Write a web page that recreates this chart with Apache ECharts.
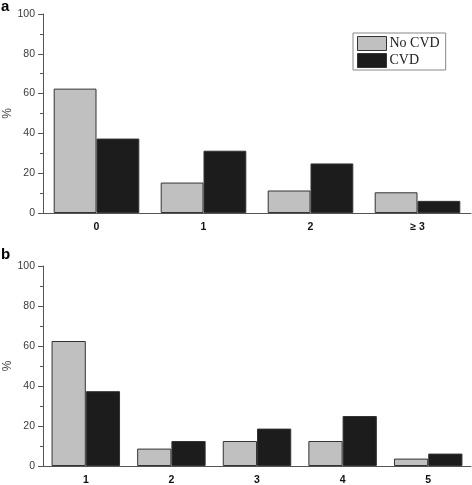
<!DOCTYPE html>
<html>
<head>
<meta charset="utf-8">
<script src="https://cdn.jsdelivr.net/npm/echarts@6/dist/echarts.min.js"></script>
<style>html,body{margin:0;padding:0;background:#fff}#c{width:472px;height:485px}</style>
</head>
<body>
<div id="c"></div>
<script>
var seriesNames = ['No CVD', 'CVD'];
var catsA = ['0', '1', '2', '\u2265 3'];
var noCvdA = [62.5, 15.3, 11.3, 10.4];
var cvdA = [37.4, 31.3, 24.9, 6.1];
var catsB = ['1', '2', '3', '4', '5'];
var noCvdB = [62.5, 8.7, 12.5, 12.5, 3.7];
var cvdB = [37.4, 12.5, 18.7, 25.0, 6.2];
var yTicks = [0, 20, 40, 60, 80, 100];

var gray = '#c0c0c0', black = '#1c1c1c', border = '#333';
function xAx(cats, gi) {
  return {
    type: 'category', data: cats, gridIndex: gi,
    axisLine: {lineStyle: {color: '#555', width: 1}},
    axisTick: {alignWithLabel: true, length: 5, lineStyle: {color: '#555'}},
    axisLabel: {color: '#111', fontWeight: 'bold', fontSize: 10.5, fontFamily: 'Liberation Sans, Arial', margin: 9}
  };
}
function yAx(gi) {
  return {
    type: 'value', gridIndex: gi, min: yTicks[0], max: yTicks[yTicks.length - 1], interval: 20,
    name: '%', nameLocation: 'middle', nameGap: 29, nameRotate: 90, nameMoveOverlap: false,
    nameTextStyle: {color: '#444', fontSize: 12, fontFamily: 'Liberation Sans, Arial'},
    axisLine: {show: true, lineStyle: {color: '#555', width: 1}},
    axisTick: {show: true, length: 5, lineStyle: {color: '#555'}},
    minorTick: {show: true, splitNumber: 2, length: 3, lineStyle: {color: '#555'}},
    splitLine: {show: false},
    axisLabel: {color: '#3a3a3a', fontSize: 10.5, fontFamily: 'Liberation Sans, Arial', margin: 8}
  };
}
function bar(name, data, color, gi) {
  return {
    type: 'bar', name: name, data: data, xAxisIndex: gi, yAxisIndex: gi,
    barGap: '0%', barCategoryGap: '20%',
    itemStyle: {color: color, borderColor: border, borderWidth: 1},
    animation: false
  };
}
var chart = echarts.init(document.getElementById('c'), null, {renderer: 'canvas'});
chart.setOption({
  animation: false,
  title: [
    {text: 'a', left: 1, top: -1, padding: 0, textStyle: {fontSize: 15, fontWeight: 'bold', color: '#000', fontFamily: 'Liberation Sans, Arial'}},
    {text: 'b', left: 1, top: 247, padding: 0, textStyle: {fontSize: 15, fontWeight: 'bold', color: '#000', fontFamily: 'Liberation Sans, Arial'}}
  ],
  legend: {
    data: seriesNames, orient: 'vertical', left: 353, top: 33,
    itemWidth: 29, itemHeight: 14, itemGap: 2, padding: [3, 6, 2, 4],
    borderColor: '#888', borderWidth: 1,
    icon: 'rect',
    textStyle: {fontFamily: 'Liberation Serif, Times New Roman', fontSize: 14, color: '#222', lineHeight: 14, padding: [0, 0, 0, -2]},
    itemStyle: {borderColor: border, borderWidth: 1}
  },
  grid: [
    {left: 43, width: 428, top: 14, height: 199, containLabel: false, outerBoundsMode: 'none'},
    {left: 43, width: 428, top: 266, height: 200, containLabel: false, outerBoundsMode: 'none'}
  ],
  xAxis: [xAx(catsA, 0), xAx(catsB, 1)],
  yAxis: [yAx(0), yAx(1)],
  series: [
    bar(seriesNames[0], noCvdA, gray, 0),
    bar(seriesNames[1], cvdA, black, 0),
    bar(seriesNames[0], noCvdB, gray, 1),
    bar(seriesNames[1], cvdB, black, 1)
  ]
});
</script>
</body>
</html>
